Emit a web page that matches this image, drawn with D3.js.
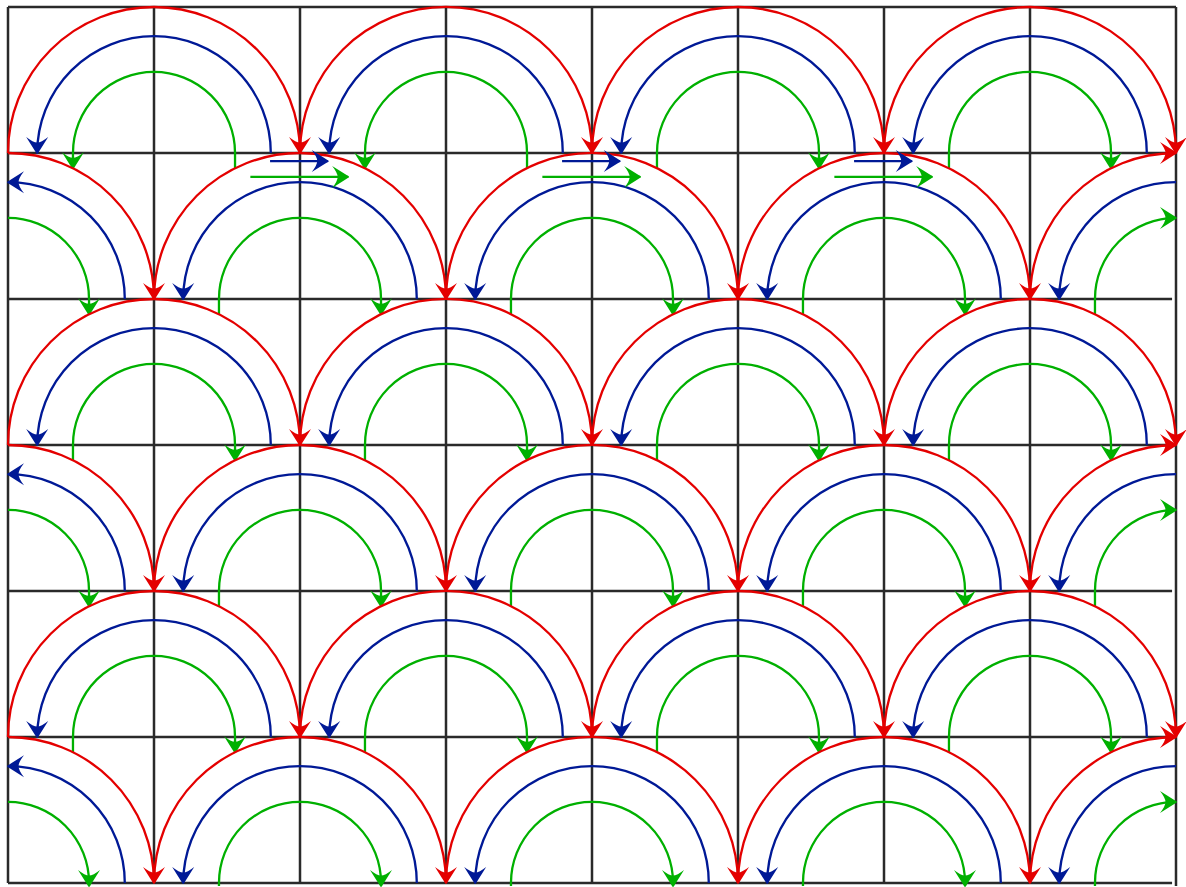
<!DOCTYPE html>
<html>
<head>
<meta charset="utf-8">
<script src="https://cdn.jsdelivr.net/npm/d3@7"></script>
<style>
  html, body { margin: 0; padding: 0; background: #fff; }
  svg { display: block; }
</style>
</head>
<body>
<svg id="chart"></svg>
<script>
// Grid in cell units: 8 columns, 6 bands
const COLS = d3.range(0, 9);
const ROWS = d3.range(0, 7);

// Baselines of the six bands of arches (row index)
const BAND_BASELINES = [1, 2, 3, 4, 5, 6];
// Arch centres (column index) for even / odd bands
const EVEN_CENTERS = [1, 3, 5, 7];
const ODD_CENTERS  = [0, 2, 4, 6, 8];

// Arch radii in cell units
const RADII = { red: 1, blue: 0.8, green: 0.555 };

// In the top band the green line of these arches runs right-to-left
const GREEN_REVERSED_TOP = [1, 3];

// Horizontal shift arrows under the top band
const SHIFT_X = [2, 4, 6];
const SHIFT_ROW = 1;
const BLUE_SHIFT  = { dy: 0.055, from: -0.205, to: 0.19 };
const GREEN_SHIFT = { dy: 0.164, from: -0.34,  to: 0.33 };

// Horizontal lines on rows 2,4,6 stop just short of the right border
const H_LINE_END = [8, 8, 7.973, 8, 7.973, 8, 7.973];

const COLORS = { red: '#e40000', blue: '#001996', green: '#00b000', grid: '#2a2a2a' };

const W = 1186, H = 887;
const x = d3.scaleLinear().domain([0, 8]).range([8, 1176]);
const y = d3.scaleLinear().domain([0, 6]).range([7, 883]);
const unit = x(1) - x(0);

const svg = d3.select('#chart').attr('width', W).attr('height', H);
const defs = svg.append('defs');

// concave "stealth" style arrow heads
Object.entries(COLORS).forEach(([name, color]) => {
  if (name === 'grid') return;
  defs.append('marker')
    .attr('id', `arrow-${name}`)
    .attr('viewBox', '-17 -12 18 24')
    .attr('refX', 0).attr('refY', 0)
    .attr('markerUnits', 'userSpaceOnUse')
    .attr('markerWidth', 18).attr('markerHeight', 24)
    .attr('orient', 'auto')
    .append('path')
    .attr('d', 'M1.5,0 L-16,-11 Q-10.5,-4 -10.5,0 Q-10.5,4 -16,11 Z')
    .attr('fill', color);
});

// grid
const grid = svg.append('g');
COLS.forEach(c => {
  grid.append('line')
    .attr('x1', x(c)).attr('x2', x(c))
    .attr('y1', y(0)).attr('y2', y(6) + (c === 8 ? 3 : 0))
    .attr('stroke', COLORS.grid).attr('stroke-width', 2.5);
});
ROWS.forEach(r => {
  grid.append('line')
    .attr('x1', x(0)).attr('x2', x(H_LINE_END[r]))
    .attr('y1', y(r)).attr('y2', y(r))
    .attr('stroke', COLORS.grid).attr('stroke-width', 2.5);
});

function centersFor(band) {
  return band % 2 === 0 ? EVEN_CENTERS : ODD_CENTERS;
}

// where a green tail dropping from baseline meets the red arch of the band below
function tailY(xd, band) {
  const below = band + 1;
  if (below >= BAND_BASELINES.length) return y(6) + 3;
  const base = BAND_BASELINES[below];
  const c = centersFor(below).find(c => Math.abs(xd - c) < 1);
  if (c === undefined) return y(base - 1);
  const dx = xd - c;
  return y(base - Math.sqrt(1 - dx * dx));
}

function archPath(cd, band, r, cw, withTails) {
  const base = BAND_BASELINES[band];
  const px = x(cd), py = y(base), pr = r * unit;
  const leftIn = cd - r >= -1e-9, rightIn = cd + r <= 8 + 1e-9;
  const p = d3.path();
  const PI = Math.PI;
  if (cw) {
    const a0 = leftIn ? PI : 1.5 * PI, a1 = rightIn ? 2 * PI : 1.5 * PI;
    if (withTails && leftIn) {
      p.moveTo(px - pr, tailY(cd - r, band));
      p.lineTo(px - pr, py);
    } else {
      p.moveTo(px + pr * Math.cos(a0), py + pr * Math.sin(a0));
    }
    p.arc(px, py, pr, a0, a1, false);
    if (withTails && rightIn) p.lineTo(px + pr, tailY(cd + r, band));
  } else {
    const a0 = rightIn ? 0 : -0.5 * PI, a1 = leftIn ? -PI : -0.5 * PI;
    if (withTails && rightIn) {
      p.moveTo(px + pr, tailY(cd + r, band));
      p.lineTo(px + pr, py);
    } else {
      p.moveTo(px + pr * Math.cos(a0), py + pr * Math.sin(a0));
    }
    p.arc(px, py, pr, a0, a1, true);
    if (withTails && leftIn) p.lineTo(px - pr, tailY(cd - r, band));
  }
  return p.toString();
}

const arches = [];
BAND_BASELINES.forEach((base, band) => {
  centersFor(band).forEach(cd => {
    const greenCw = !(band === 0 && GREEN_REVERSED_TOP.includes(cd));
    arches.push({ color: 'red',   d: archPath(cd, band, RADII.red, true, false) });
    arches.push({ color: 'blue',  d: archPath(cd, band, RADII.blue, false, false) });
    arches.push({ color: 'green', d: archPath(cd, band, RADII.green, greenCw, true) });
  });
});

svg.append('g').selectAll('path')
  .data(arches)
  .enter()
  .append('path')
  .attr('d', d => d.d)
  .attr('fill', 'none')
  .attr('stroke', d => COLORS[d.color])
  .attr('stroke-width', 2.3)
  .attr('marker-end', d => `url(#arrow-${d.color})`);

// shift arrows
const shifts = [];
SHIFT_X.forEach(sx => {
  shifts.push({ color: 'blue',  sx, s: BLUE_SHIFT });
  shifts.push({ color: 'green', sx, s: GREEN_SHIFT });
});
svg.append('g').selectAll('line')
  .data(shifts)
  .enter()
  .append('line')
  .attr('x1', d => x(d.sx + d.s.from))
  .attr('x2', d => x(d.sx + d.s.to))
  .attr('y1', d => y(SHIFT_ROW + d.s.dy))
  .attr('y2', d => y(SHIFT_ROW + d.s.dy))
  .attr('stroke', d => COLORS[d.color])
  .attr('stroke-width', 2.3)
  .attr('marker-end', d => `url(#arrow-${d.color})`);
</script>
</body>
</html>
